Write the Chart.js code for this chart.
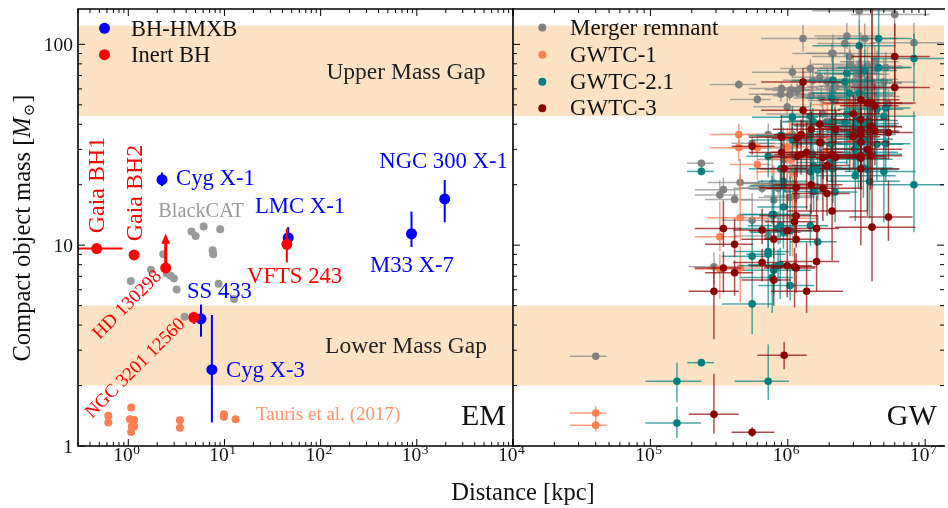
<!DOCTYPE html>
<html><head><meta charset="utf-8">
<script src="https://cdn.jsdelivr.net/npm/chart.js@4.4.1/dist/chart.umd.min.js"></script>
<style>
html,body{margin:0;padding:0;background:#fff;overflow:hidden}
#wrap{position:relative;width:948px;height:508px;background:#fff}
#wrap canvas{position:absolute;left:0;top:0}
</style></head><body>
<div id="wrap"><canvas id="em" width="948" height="508"></canvas><canvas id="gw" width="948" height="508"></canvas></div>
<script>
// ================= DATA =================
// Mass-gap bands (Msun)
const lowerMassGap = [2, 5];
const upperMassGap = [44, 124];

// EM panel: BH high-mass X-ray binaries (distance kpc, mass Msun)
const hmxbNames = ['Cyg X-1', 'LMC X-1', 'NGC 300 X-1', 'M33 X-7', 'SS 433', 'Cyg X-3'];
const hmxbDist = [2.24, 46, 1950, 880, 5.7, 7.4];
const hmxbMass = [21.2, 10.9, 17.0, 11.4, 4.3, 2.4];
const hmxbMassLow = [19.7, 9.5, 13.0, 9.8, 3.5, 1.31];
const hmxbMassHigh = [23.0, 12.3, 21.1, 14.7, 5.06, 4.49];

// EM panel: inert (dormant) BHs
const inertNames = ['Gaia BH1', 'Gaia BH2', 'HD 130298', 'NGC 3201 12560', 'VFTS 243'];
const inertDist = [0.47, 1.15, 2.45, 4.8, 44.5];
const inertMass = [9.62, 8.94, 7.7, 4.37, 10.1];
const inertDistLow = [0.2, null, null, null, null];
const inertDistHigh = [0.87, null, null, null, null];
const inertMassLow = [null, null, null, 4.05, 8.2];
const inertMassHigh = [null, null, null, 4.66, 12.1];
const inertLowerLimitArrowTo = [null, null, 11.4, null, null];

// EM panel: BlackCAT X-ray binaries
const blackcatDist = [1.06, 1.72, 2.31, 2.51, 2.76, 2.98, 3.18, 3.85, 4.54, 5.01, 6.07, 9.03, 7.53, 7.64, 8.69, 12.6];
const blackcatMass = [6.64, 7.55, 9.02, 7.23, 7.05, 6.83, 6.01, 4.40, 11.7, 11.1, 12.4, 12.0, 9.44, 9.02, 6.42, 5.40];

// EM panel: Tauris et al. (2017) neutron stars
const taurisDist = [0.62, 0.62, 1.07, 1.04, 1.15, 1.09, 1.07, 1.15, 3.44, 3.44, 9.87, 9.87, 13.05];
const taurisMass = [1.415, 1.309, 1.557, 1.358, 1.347, 1.253, 1.174, 1.25, 1.342, 1.233, 1.438, 1.399, 1.359];

// GW panel events: [dist Mpc, -err, +err, m1, -err, +err, m2, -err, +err, Mfinal, -err, +err]
const gwtc1Events = [
 [440,170,150, 35.6,3.1,4.7, 30.6,4.4,3.0, 63.1,3.0,3.4],
 [1080,490,550, 23.2,5.5,14.9, 13.6,4.8,4.1, 35.6,3.8,10.8],
 [450,190,180, 13.7,3.2,8.8, 7.7,2.5,2.2, 20.5,1.5,6.4],
 [990,430,440, 30.8,5.6,7.3, 20.0,4.6,4.9, 48.9,4.0,5.1],
 [320,110,120, 11.0,1.7,5.5, 7.6,2.2,1.4, 17.8,0.7,3.2],
 [2840,1360,1400, 50.2,10.2,16.2, 34.0,10.1,9.1, 79.5,10.2,14.7],
 [1030,390,320, 35.0,5.9,8.3, 23.8,5.2,5.1, 56.3,3.8,5.2],
 [600,220,150, 30.6,3.0,5.6, 25.2,4.0,2.8, 53.2,2.4,3.2],
 [40,14,8, 1.46,0.10,0.12, 1.27,0.09,0.09, 2.8,0.05,0.05],
 [1060,380,420, 35.4,4.7,7.5, 26.7,5.2,4.3, 59.4,3.8,4.2],
 [1940,900,970, 39.5,6.7,11.2, 29.0,7.8,6.7, 65.4,7.4,10.1]
];
const gwtc21Events = [
 [8280,4290,6720, 85.0,33.0,27.8, 20.0,8.4,26.3, 102,24,26],
 [1540,620,440, 24.8,3.4,5.4, 18.5,3.6,3.3, 41.1,2.8,3.9],
 [720,220,240, 27.7,6.0,6.0, 9.0,1.4,2.0, 35.6,4.6,4.8],
 [3550,1660,2270, 33.7,6.3,10.4, 24.2,7.0,6.5, 56.0,8.0,12.0],
 [4450,2120,2480, 47.5,10.7,13.5, 31.8,10.8,11.7, 76.0,13.0,17.0],
 [3200,1370,1750, 42.0,7.7,10.1, 32.0,10.0,8.3, 71.0,11.0,12.0],
 [156,64,78, 2.1,0.45,0.5, 1.3,0.2,0.27, null,null,null],
 [4580,2280,3400, 106.9,24.1,41.6, 76.6,33.6,26.2, 175,33,39],
 [1520,600,630, 41.3,7.7,6.9, 28.3,7.5,7.5, 66.3,9.0,9.0],
 [1460,590,510, 23.2,5.8,5.6, 12.5,2.6,3.5, 34.5,3.5,3.8],
 [2210,810,990, 36.7,9.7,12.0, 18.4,5.4,7.5, 52.6,8.6,13.0],
 [4130,2170,2650, 39.0,8.2,14.7, 28.4,8.8,9.3, 64.5,11.1,16.5],
 [2110,1000,1790, 39.2,9.2,13.9, 24.0,6.5,7.4, 59.3,8.9,9.1],
 [2600,960,1720, 65.1,11.0,10.8, 40.8,12.7,11.5, 101,14,12],
 [3310,1800,2790, 98.4,21.7,33.6, 57.2,30.1,27.1, 147,16,40],
 [1080,530,580, 43.4,5.5,5.8, 33.4,6.8,5.2, 72.6,4.8,6.5],
 [3100,1500,3000, 35.6,8.0,18.7, 22.2,9.0,9.0, 56.0,10.0,21.0],
 [2690,1120,1790, 71.8,14.6,18.1, 44.8,19.6,15.5, 110,15,18],
 [2810,1310,1680, 57.1,12.7,16.0, 35.5,12.3,12.2, 87,12,16],
 [890,370,560, 35.1,5.6,6.9, 24.0,5.1,5.5, 56.4,4.6,4.4],
 [2090,740,770, 54.1,8.0,12.6, 40.5,12.1,8.7, 90.2,8.9,11.3],
 [3630,2000,2600, 74.0,16.9,20.0, 39.4,15.4,17.7, 107,14,20],
 [850,410,340, 12.1,2.0,2.6, 7.9,1.3,1.6, 19.2,1.3,1.9],
 [930,400,310, 19.8,2.6,4.3, 11.6,2.0,3.1, 30.5,1.8,2.5],
 [3940,2000,2590, 36.5,10.3,18.0, 20.8,7.2,9.0, 55.0,10.0,17.0],
 [790,320,690, 14.2,3.5,5.6, 7.5,1.8,2.2, 20.4,2.2,4.5],
 [1040,430,520, 11.8,3.0,10.1, 6.3,1.0,1.8, 17.3,2.0,7.8],
 [3070,1230,1300, 38.9,5.6,8.9, 30.2,8.3,6.5, 65.1,7.5,9.7],
 [880,370,260, 12.5,2.3,6.9, 8.0,2.6,1.7, 19.6,1.3,4.7],
 [3880,1790,2470, 41.8,10.5,12.7, 29.0,9.2,10.3, 67.0,12.0,15.0],
 [3270,1580,1950, 37.7,7.0,9.8, 27.6,8.4,7.6, 62.0,9.0,11.0],
 [5160,2530,2610, 48.2,12.4,17.5, 32.0,11.4,13.4, 76.6,13.0,15.0],
 [235,50,55, 23.3,1.0,1.4, 2.6,0.09,0.08, 25.6,0.9,1.1],
 [2070,920,650, 31.9,4.1,5.4, 25.8,5.3,7.1, 54.9,4.3,7.2],
 [1650,610,620, 23.7,7.0,6.5, 10.4,2.1,3.6, 33.1,4.4,5.2],
 [1460,580,1030, 43.8,6.8,7.6, 35.6,7.4,6.4, 75.8,8.1,8.5],
 [1750,650,710, 32.3,4.3,8.8, 24.4,5.9,5.6, 54.1,5.3,8.0],
 [5000,2410,3530, 43.8,13.8,20.7, 23.3,10.3,12.9, 65.0,14.0,20.0],
 [720,310,300, 9.3,4.4,3.4, 2.1,0.4,1.1, 11.1,3.2,2.9],
 [550,220,220, 8.8,1.7,4.4, 5.1,1.5,2.0, 13.3,0.9,4.9],
 [930,330,460, 20.8,2.9,6.5, 15.5,3.6,2.5, 34.9,2.7,3.7],
 [3800,1950,2620, 40.4,11.2,21.8, 23.8,9.0,10.3, 61.0,13.0,22.0],
 [2130,1050,3650, 66.3,16.6,21.6, 26.8,10.6,14.7, 90.0,16.0,22.0],
 [770,320,320, 14.2,1.5,8.0, 6.9,2.3,1.2, 20.3,1.0,8.7]
];
const gwtc3Events = [
 [990,470,500, 11.8,2.2,6.2, 7.9,2.4,1.7, 19.0,1.1,3.8],
 [1150,480,430, 10.7,1.0,3.7, 7.7,1.9,1.4, 17.6,0.5,2.1],
 [1290,650,1130, 65.0,11.0,11.0, 47.0,13.0,15.0, 107,15,18],
 [1370,620,1150, 29.0,14.0,12.0, 5.9,1.3,4.4, 34.0,10.0,11.0],
 [1620,740,740, 12.1,2.2,5.5, 8.3,2.4,1.9, 19.6,2.0,3.5],
 [3400,1700,3100, 53.0,20.0,47.0, 24.0,14.0,17.0, 76.0,21.0,39.0],
 [790,330,260, 10.7,2.1,4.1, 6.7,1.7,1.5, 16.8,0.4,2.5],
 [1800,1100,1700, 27.3,6.0,11.0, 19.2,6.0,5.6, 45.0,8.0,9.0],
 [650,250,190, 11.9,1.8,3.3, 8.2,1.6,1.4, 19.2,1.0,1.9],
 [1930,860,890, 24.9,4.1,7.1, 18.1,4.1,3.8, 41.4,4.1,5.1],
 [340,130,120, 12.1,2.3,4.6, 7.7,1.9,1.6, 18.9,0.7,2.8],
 [550,160,250, 31.1,2.8,2.2, 1.17,0.06,0.07, 32.2,2.7,2.2],
 [3000,1700,1700, 45.1,8.0,10.9, 34.7,10.5,9.3, 76.0,9.0,13.0],
 [4300,1900,2100, 49.4,9.6,14.0, 37.0,12.0,11.0, 82.0,11.0,17.0],
 [1250,460,430, 35.6,4.5,6.7, 28.3,5.9,4.4, 60.8,4.3,5.3],
 [290,100,150, 5.9,2.5,2.0, 1.44,0.29,0.85, 7.8,1.4,1.4],
 [3400,1300,2100, 42.2,8.1,11.6, 32.6,9.2,9.5, 71.0,10.0,14.0],
 [900,380,290, 34.5,3.2,9.9, 28.9,9.3,3.4, 60.2,3.0,4.0],
 [410,160,150, 10.1,1.4,3.5, 7.3,1.7,1.1, 16.9,0.5,1.9],
 [2230,850,1000, 37.8,5.7,9.2, 27.4,7.4,6.1, 61.7,6.2,7.5],
 [4100,1900,4400, 51.0,30.0,104.0, 12.3,5.7,9.0, 61.0,25.0,100.0],
 [3400,1800,1900, 35.6,6.8,10.5, 27.1,7.8,7.8, 59.9,9.0,13.1],
 [940,340,430, 24.1,4.6,7.5, 2.83,0.42,0.47, 26.7,4.3,7.2],
 [3800,2000,3000, 51.0,13.0,22.0, 30.0,16.0,14.0, 78.0,13.0,19.0],
 [3400,1500,1700, 37.5,6.9,10.1, 27.9,9.0,7.4, 62.2,7.1,10.7],
 [6000,3100,4800, 87.0,23.0,40.0, 61.0,25.0,26.0, 141,31,51],
 [4000,2200,2800, 38.9,8.6,14.1, 27.9,9.0,9.2, 64.0,12.0,16.0],
 [1710,640,490, 40.0,4.5,6.7, 32.5,7.2,5.0, 68.6,4.7,5.7],
 [1150,530,510, 19.3,3.0,5.0, 14.0,3.5,2.8, 32.1,2.8,3.5],
 [1480,700,1020, 37.8,8.5,8.7, 20.0,5.7,8.1, 55.5,6.6,9.6],
 [2100,1100,1700, 28.3,7.7,17.1, 14.8,6.4,6.5, 41.7,6.9,12.3],
 [5400,2600,2700, 36.4,9.6,11.2, 13.8,3.3,7.2, 50.6,8.5,10.9],
 [1170,400,280, 34.2,3.8,6.4, 27.7,5.9,4.1, 59.0,3.9,4.8],
 [1120,440,470, 13.1,2.9,10.2, 7.8,2.9,1.9, 20.2,1.9,7.4]
];

// Axis limits and tick exponents
const emXRange = [0.3, 1e4];
const gwXRange = [1e4, 1.37e7];
const massRange = [1, 150];
const emXTickExps = [0, 1, 2, 3, 4];
const gwXTickExps = [5, 6, 7];
const massTickLabels = ['1', '10', '100'];

// ================= STYLE / HELPERS =================
const FONT = '"Liberation Serif","DejaVu Serif",serif';
const BAND = '#fde3c4';
const C = {blue:'#0000ff', red:'#ff0000', grayCat:'#9a9a9a', coral:'#ff7f50', gray:'#808080', teal:'#008080', dred:'#8b0000'};

function logTicks(min, max) {
  const out = [];
  for (let e = Math.floor(Math.log10(min)); e <= Math.ceil(Math.log10(max)); e++) {
    for (let k = 1; k <= 9; k++) {
      const v = k * Math.pow(10, e);
      if (v >= min * 0.9999 && v <= max * 1.0001) out.push({v, major: k === 1, e});
    }
  }
  return out;
}
function txt(ctx, s, x, y, size, color, align, rot, baseline, style) {
  ctx.save();
  ctx.font = (style ? style + ' ' : '') + size + 'px ' + FONT;
  ctx.fillStyle = color;
  ctx.textAlign = align || 'left';
  ctx.textBaseline = baseline || 'alphabetic';
  ctx.translate(x, y);
  if (rot) ctx.rotate(rot * Math.PI / 180);
  ctx.fillText(s, 0, 0);
  ctx.restore();
}
function powLabel(ctx, exp, cx, baseY) {
  const big = '19.5px ' + FONT, small = '13.5px ' + FONT;
  ctx.save();
  ctx.fillStyle = '#111';
  ctx.textAlign = 'left'; ctx.textBaseline = 'alphabetic';
  ctx.font = big; const w1 = ctx.measureText('10').width;
  ctx.font = small; const w2 = ctx.measureText(String(exp)).width;
  const x0 = cx - (w1 + w2) / 2 - 2;
  ctx.font = big; ctx.fillText('10', x0, baseY);
  ctx.font = small; ctx.fillText(String(exp), x0 + w1 + 0.5, baseY - 7.5);
  ctx.restore();
}

function makePoints(xs, ys, xl, xh, yl, yh) {
  return xs.map((x, i) => ({x, y: ys[i],
    xl: xl ? xl[i] : null, xh: xh ? xh[i] : null,
    yl: yl ? yl[i] : null, yh: yh ? yh[i] : null}));
}
function componentPoints(rows) {
  const pts = [];
  rows.forEach(r => [3, 6].forEach(k => pts.push({
    x: r[0] * 1e3, y: r[k], xl: (r[0] - r[1]) * 1e3, xh: (r[0] + r[2]) * 1e3,
    yl: r[k] - r[k + 1], yh: r[k] + r[k + 2]})));
  return pts;
}
function remnantPoints(rows) {
  return rows.filter(r => r[9] !== null).map(r => ({
    x: r[0] * 1e3, y: r[9], xl: (r[0] - r[1]) * 1e3, xh: (r[0] + r[2]) * 1e3,
    yl: r[9] - r[10], yh: r[9] + r[11]}));
}

function decor(cfg) {
  return {
    id: 'decor',
    beforeDatasetsDraw(chart) {
      const {ctx, chartArea: a, scales: {y}} = chart;
      ctx.save();
      ctx.fillStyle = BAND;
      [lowerMassGap, upperMassGap].forEach(b => {
        const top = Math.max(a.top, y.getPixelForValue(b[1]));
        const bot = Math.min(a.bottom, y.getPixelForValue(b[0]));
        ctx.fillRect(a.left, top, a.right - a.left, bot - top);
      });
      ctx.restore();
    },
    beforeDatasetDraw(chart, args) {
      const ds = chart.data.datasets[args.index];
      if (!ds.errColor && !ds.arrowTo) return;
      const {ctx, chartArea: a, scales: {x, y}} = chart;
      ctx.save();
      ctx.beginPath(); ctx.rect(a.left, a.top, a.right - a.left, a.bottom - a.top); ctx.clip();
      ctx.strokeStyle = ds.errColor; ctx.lineWidth = ds.errWidth || 1.5;
      ds.data.forEach((p, i) => {
        const px = x.getPixelForValue(p.x), py = y.getPixelForValue(p.y);
        if (p.xl != null) { ctx.beginPath(); ctx.moveTo(x.getPixelForValue(p.xl), py); ctx.lineTo(x.getPixelForValue(p.xh), py); ctx.stroke(); }
        if (p.yl != null) { ctx.beginPath(); ctx.moveTo(px, y.getPixelForValue(p.yl)); ctx.lineTo(px, y.getPixelForValue(p.yh)); ctx.stroke(); }
        if (ds.arrowTo && ds.arrowTo[i] != null) {
          const ty = y.getPixelForValue(ds.arrowTo[i]);
          ctx.save();
          ctx.strokeStyle = ds.backgroundColor; ctx.fillStyle = ds.backgroundColor; ctx.lineWidth = 3;
          ctx.beginPath(); ctx.moveTo(px, py); ctx.lineTo(px, ty + 8); ctx.stroke();
          ctx.beginPath(); ctx.moveTo(px, ty); ctx.lineTo(px - 4.5, ty + 10); ctx.lineTo(px + 4.5, ty + 10); ctx.closePath(); ctx.fill();
          ctx.restore();
        }
      });
      ctx.restore();
    },
    afterDatasetsDraw(chart) {
      const {ctx, chartArea: a, scales: {x, y}} = chart;
      ctx.save();
      ctx.strokeStyle = '#000'; ctx.lineWidth = 1;
      const line = (x1, y1, x2, y2) => { ctx.beginPath(); ctx.moveTo(x1, y1); ctx.lineTo(x2, y2); ctx.stroke(); };
      logTicks(y.min, y.max).forEach(t => {
        const py = y.getPixelForValue(t.v), L = t.major ? 7 : 4;
        if (cfg.ticks.left) line(a.left, py, a.left + L, py);
        if (cfg.ticks.right) line(a.right, py, a.right - L, py);
      });
      logTicks(x.min, x.max).forEach(t => {
        const px = x.getPixelForValue(t.v), L = t.major ? 7 : 4;
        if (cfg.ticks.top) line(px, a.top, px, a.top + L);
        if (cfg.ticks.bottom) line(px, a.bottom, px, a.bottom - L);
      });
      ctx.lineWidth = 1.6;
      ctx.beginPath();
      ctx.moveTo(a.right + 1, a.top); ctx.lineTo(a.left, a.top); ctx.lineTo(a.left, a.bottom); ctx.lineTo(a.right + 1, a.bottom);
      if (cfg.rightSpine) { ctx.moveTo(a.right, a.top); ctx.lineTo(a.right, a.bottom); }
      ctx.stroke();
      ctx.restore();
      // tick labels
      if (cfg.yLabels) {
        massTickLabels.forEach(s => {
          const py = y.getPixelForValue(parseFloat(s));
          txt(ctx, s, a.left - 5, py + 6.5, 19.5, '#111', 'right');
        });
      }
      cfg.xExps.forEach(e => powLabel(ctx, e, x.getPixelForValue(Math.pow(10, e)), 461));
      // texts
      cfg.texts.forEach(t => txt(ctx, t[0], t[1], t[2], t[3], t[4], t[5], t[6], t[7]));
      // legend
      cfg.legend.forEach(l => {
        ctx.save(); ctx.fillStyle = l.color; ctx.beginPath(); ctx.arc(l.mx, l.my, l.r, 0, Math.PI * 2); ctx.fill(); ctx.restore();
        txt(ctx, l.text, l.tx, l.ty, l.size, '#111', 'left');
      });
      if (cfg.axisTitles) {
        txt(ctx, 'Distance [kpc]', 523, 500, 24.5, '#111', 'center');
        // rotated y title with italic M and subscript sun symbol
        ctx.save();
        ctx.translate(30, 229); ctx.rotate(-Math.PI / 2);
        ctx.fillStyle = '#111'; ctx.textBaseline = 'alphabetic'; ctx.textAlign = 'left';
        const parts = [['Compact object mass [', '24.5px ' + FONT, 0], ['M', 'italic 24.5px ' + FONT, 0], ['\u2299', '15px "DejaVu Serif",serif', 4], [']', '24.5px ' + FONT, 0]];
        let tot = 0; const ws = parts.map(p => { ctx.font = p[1]; const w = ctx.measureText(p[0]).width; tot += w; return w; });
        let cx = -tot / 2;
        parts.forEach((p, i) => { ctx.font = p[1]; ctx.fillText(p[0], cx + (i === 2 ? 1 : 0), p[2]); cx += ws[i] + (i === 2 ? 2 : 0); });
        ctx.restore();
      }
    }
  };
}

const baseOpts = (xr, pad) => ({
  responsive: false, animation: false, devicePixelRatio: 1, events: [],
  layout: {padding: pad},
  scales: {
    x: {type: 'logarithmic', min: xr[0], max: xr[1], display: false},
    y: {type: 'logarithmic', min: massRange[0], max: massRange[1], display: false}
  },
  plugins: {legend: {display: false}, tooltip: {enabled: false}}
});

// ================= EM PANEL =================
const emTexts = [
  ['Upper Mass Gap', 406, 78.7, 23.5, '#222', 'center'],
  ['Lower Mass Gap', 406, 352.7, 23.5, '#222', 'center'],
  ['EM', 506, 425, 30, '#111', 'right'],
  ['Tauris et al. (2017)', 256, 420, 19, 'rgba(255,127,80,0.85)', 'left'],
  ['BlackCAT', 158.3, 217.3, 20.3, '#999999', 'left'],
  ['Cyg X-1', 176, 185, 22.7, C.blue, 'left'],
  ['LMC X-1', 255, 213.3, 22.7, C.blue, 'left'],
  ['NGC 300 X-1', 379.3, 167.7, 22.7, C.blue, 'left'],
  ['M33 X-7', 370, 271.7, 22.7, C.blue, 'left'],
  ['SS 433', 187, 298.3, 22.7, C.blue, 'left'],
  ['Cyg X-3', 226, 376.7, 22.7, C.blue, 'left'],
  ['VFTS 243', 247, 282.7, 22.7, C.red, 'left'],
  ['Gaia BH1', 104, 185, 24, C.red, 'center', -90],
  ['Gaia BH2', 142, 193, 24, C.red, 'center', -90],
  ['HD 130298', 127.5, 305, 19, C.red, 'center', -45, 'middle'],
  ['NGC 3201 12560', 135.5, 368.5, 18.7, C.red, 'center', -45, 'middle']
];
new Chart(document.getElementById('em'), {
  type: 'scatter',
  data: {datasets: [
    {label: 'Tauris et al. (2017)', data: makePoints(taurisDist, taurisMass), backgroundColor: C.coral, pointRadius: 4, pointBorderWidth: 0, order: 5, clip: 0},
    {label: 'BlackCAT', data: makePoints(blackcatDist, blackcatMass), backgroundColor: C.grayCat, pointRadius: 4, pointBorderWidth: 0, order: 4, clip: 0},
    {label: 'BH-HMXB', data: makePoints(hmxbDist, hmxbMass, null, null, hmxbMassLow, hmxbMassHigh), backgroundColor: C.blue, pointRadius: 5.5, pointBorderWidth: 0, errColor: C.blue, errWidth: 2, order: 3, clip: 0},
    {label: 'Inert BH', data: makePoints(inertDist, inertMass, inertDistLow, inertDistHigh, inertMassLow, inertMassHigh), backgroundColor: C.red, pointRadius: 5.5, pointBorderWidth: 0, errColor: C.red, errWidth: 2, arrowTo: inertLowerLimitArrowTo, order: 2, clip: 0}
  ]},
  options: baseOpts(emXRange, {left: 78, right: 435, top: 9, bottom: 62}),
  plugins: [decor({
    ticks: {left: true, right: false, top: true, bottom: true}, rightSpine: false,
    yLabels: true, xExps: emXTickExps, texts: emTexts, axisTitles: true,
    legend: [
      {color: C.blue, mx: 104.5, my: 28.3, r: 5.5, text: 'BH-HMXB', tx: 131, ty: 35.7, size: 22.5},
      {color: C.red, mx: 104.5, my: 54.7, r: 5.5, text: 'Inert BH', tx: 131, ty: 62.3, size: 22.5}
    ]
  })]
});

// ================= GW PANEL =================
const allEvents = gwtc1Events.concat(gwtc21Events, gwtc3Events);
new Chart(document.getElementById('gw'), {
  type: 'scatter',
  data: {datasets: [
    {label: 'Merger remnant', data: remnantPoints(allEvents), backgroundColor: C.gray, pointRadius: 3.8, pointBorderWidth: 0, errColor: 'rgba(128,128,128,0.65)', errWidth: 1.5, order: 4, clip: 0},
    {label: 'GWTC-1', data: componentPoints(gwtc1Events), backgroundColor: C.coral, pointRadius: 3.8, pointBorderWidth: 0, errColor: 'rgba(255,127,80,0.75)', errWidth: 1.5, order: 3, clip: 0},
    {label: 'GWTC-2.1', data: componentPoints(gwtc21Events), backgroundColor: C.teal, pointRadius: 3.8, pointBorderWidth: 0, errColor: 'rgba(0,128,128,0.7)', errWidth: 1.5, order: 2, clip: 0},
    {label: 'GWTC-3', data: componentPoints(gwtc3Events), backgroundColor: C.dred, pointRadius: 3.8, pointBorderWidth: 0, errColor: 'rgba(139,0,0,0.7)', errWidth: 1.5, order: 1, clip: 0}
  ]},
  options: baseOpts(gwXRange, {left: 513, right: 0, top: 9, bottom: 62}),
  plugins: [decor({
    ticks: {left: true, right: true, top: true, bottom: true}, rightSpine: false,
    yLabels: false, xExps: gwXTickExps, axisTitles: false,
    texts: [['GW', 936.7, 425, 30, '#111', 'right']],
    legend: [
      {color: C.gray, mx: 542.3, my: 27.5, r: 4, text: 'Merger remnant', tx: 570, ty: 35, size: 23},
      {color: C.coral, mx: 542.3, my: 54.8, r: 4, text: 'GWTC-1', tx: 570, ty: 62.3, size: 23},
      {color: C.teal, mx: 542.3, my: 81.7, r: 4, text: 'GWTC-2.1', tx: 570, ty: 89.3, size: 23},
      {color: C.dred, mx: 542.3, my: 108.3, r: 4, text: 'GWTC-3', tx: 570, ty: 115, size: 23}
    ]
  })]
});
</script>
</body></html>
